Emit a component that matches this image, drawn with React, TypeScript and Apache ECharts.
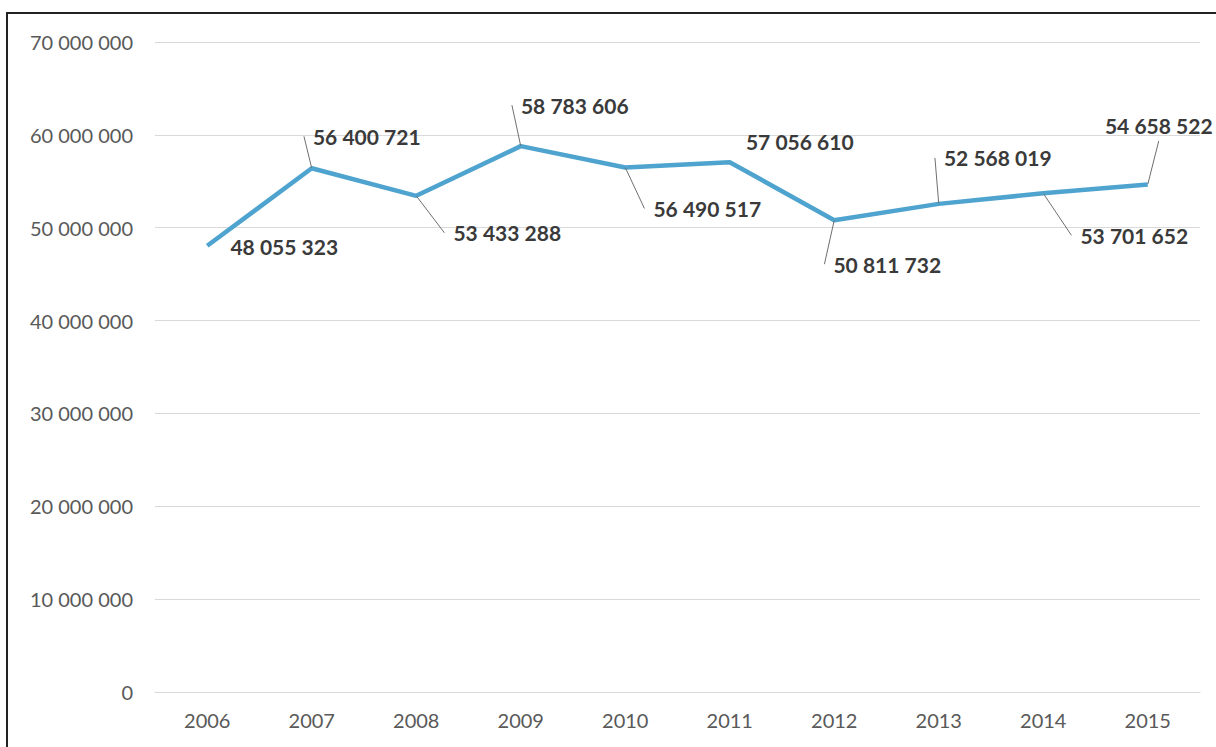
import React, { useEffect, useRef } from "react";
import * as echarts from "echarts";

const years = ["2006", "2007", "2008", "2009", "2010", "2011", "2012", "2013", "2014", "2015"];
const values = [48055323, 56400721, 53433288, 58783606, 56490517, 57056610, 50811732, 52568019, 53701652, 54658522];
const yTicks = [0, 10000000, 20000000, 30000000, 40000000, 50000000, 60000000, 70000000];

// label offsets (layout only), relative to the data point
const labelDx = [77, 55, 91, 54, 82, 70, 53, 59, 91, 11];
const labelDy = [1, -32, 37, -41, 41, -21, 44, -46, 42, -59];
const noLeader = [0, 5];

const fmt = (v: number) => String(v).replace(/\B(?=(\d{3})+(?!\d))/g, " ");

export default function App() {
  const ref = useRef<HTMLDivElement>(null);
  useEffect(() => {
    document.body.style.margin = "0";
    const chart = echarts.init(ref.current!, null, { renderer: "svg" });
    chart.setOption({
      animation: false,
      backgroundColor: "#ffffff",
      textStyle: { fontFamily: "Lato" },
      grid: { left: 155, right: 16, top: 42, bottom: 55 },
      xAxis: {
        type: "category",
        data: years,
        boundaryGap: true,
        axisLine: { show: true, lineStyle: { color: "#d9d9d9", width: 1 } },
        axisTick: { show: false },
        axisLabel: { color: "#595959", fontSize: 20, fontFamily: "Lato", margin: 18 },
      },
      yAxis: {
        type: "value",
        min: yTicks[0],
        max: yTicks[yTicks.length - 1],
        interval: 10000000,
        axisLine: { show: false },
        axisTick: { show: false },
        splitLine: { lineStyle: { color: "#d9d9d9", width: 1 } },
        axisLabel: { color: "#595959", fontSize: 20, fontFamily: "Lato", margin: 22, formatter: (v: number) => fmt(v) },
      },
      graphic: [
        { type: "line", shape: { x1: 6, y1: 13, x2: 1216, y2: 13 }, style: { stroke: "#222", lineWidth: 2 } },
        { type: "line", shape: { x1: 7, y1: 13, x2: 7, y2: 747 }, style: { stroke: "#222", lineWidth: 2 } },
      ],
      series: [
        {
          type: "line",
          data: values.map((v, i) => (noLeader.includes(i) ? { value: v, labelLine: { show: false } } : v)),
          symbol: "circle",
          symbolSize: 1,
          showSymbol: true,
          itemStyle: { color: "rgba(0,0,0,0)", borderWidth: 0 },
          lineStyle: { color: "#4fa3cf", width: 4.5 },
          label: {
            show: true,
            position: "inside",
            color: "#3a3a3a",
            fontSize: 21,
            fontWeight: "bold",
            fontFamily: "Lato",
            padding: [5, 9],
            backgroundColor: "rgba(255,255,255,0.01)",
            formatter: (p: any) => fmt(p.value),
          },
          labelLine: { show: true, lineStyle: { color: "#6f6f6f", width: 1 } },
          labelLayout: (p: any) => ({ dx: labelDx[p.dataIndex], dy: labelDy[p.dataIndex] }),
        },
      ],
    });
    return () => chart.dispose();
  }, []);
  return <div ref={ref} style={{ position: "absolute", left: 0, top: 0, width: 1216, height: 747 }} />;
}
